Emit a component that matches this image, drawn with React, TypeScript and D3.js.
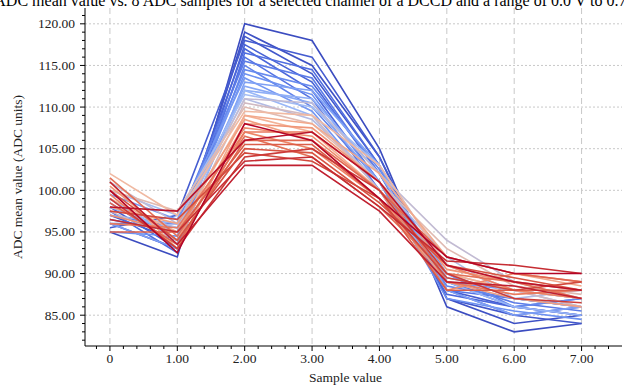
import React from "react";
import * as d3 from "d3";

const TITLE = "ADC mean value vs. 8 ADC samples for a selected channel of a DCCD and a range of 0.0 V to 0.7 V";
const X_LABEL = "Sample value";
const Y_LABEL = "ADC mean value (ADC units)";
const samples = [0, 1, 2, 3, 4, 5, 6, 7];
const xTickLabels = ["0", "1.00", "2.00", "3.00", "4.00", "5.00", "6.00", "7.00"];
const yTicks = [85, 90, 95, 100, 105, 110, 115, 120];

const series: number[][] = [
  [95, 92, 120, 118, 105, 86, 83, 84],
  [96, 93, 119, 115, 104, 87, 84, 85],
  [97, 94, 118.5, 114, 103, 87, 85, 84],
  [95.5, 97, 118, 116, 104, 88, 86, 85],
  [98, 93, 117.5, 113, 102, 88, 85, 86],
  [96.5, 95, 117, 112, 101, 87.5, 86, 85],
  [97.5, 92.5, 116.5, 114.5, 103, 89, 86, 87],
  [99, 94, 116, 111, 100, 88, 87, 86],
  [96, 96, 115.5, 113.5, 102, 89, 86.5, 85.5],
  [98.5, 93.5, 115, 110, 101, 88.5, 87, 86],
  [97, 95.5, 114.5, 112.5, 102.5, 90, 86, 87],
  [95, 94.5, 114, 111.5, 101, 87, 85.5, 84.5],
  [99.5, 96.5, 113.5, 109.5, 100, 89, 88, 87],
  [96, 93, 113, 112, 103, 88, 85, 86],
  [98, 95, 112.5, 110.5, 101, 90, 87, 86],
  [97, 96, 112, 111, 102, 89.5, 88, 87],
  [99, 94, 112, 109, 100, 89, 86, 85],
  [100, 97, 111.5, 110, 103, 91, 88, 86],
  [98, 95.5, 111, 108.5, 101, 92, 87, 88],
  [101, 96, 111, 110.5, 102, 94, 89, 87],
  [97.5, 94, 110.5, 109, 100, 90, 88, 86],
  [100, 97.5, 110, 108, 101, 93, 88.5, 87.5],
  [102, 97, 109.5, 109, 103, 91, 89, 88],
  [99, 95, 109, 107, 100, 90, 88, 87],
  [101, 93, 109, 108, 102, 92, 90, 88.5],
  [98, 96, 108.5, 106, 99, 89, 87, 86],
  [100.5, 94, 108, 107.5, 101, 90.5, 89, 88],
  [97, 95, 107.5, 106.5, 100, 88, 90, 89],
  [99.5, 93, 107, 105, 99, 91, 88, 87],
  [96, 95.5, 107, 107, 101, 89, 87.5, 88],
  [101.5, 94.5, 106.5, 104, 98, 90, 89, 87],
  [98.5, 93.5, 106, 106, 100, 92, 90, 89],
  [95, 95, 105.5, 105.5, 99, 88, 88, 88],
  [100, 94, 105, 104.5, 98.5, 91, 89.5, 88],
  [97.5, 96.5, 104.5, 103.5, 99, 89.5, 88, 89],
  [99, 93, 104, 105, 100, 90, 87, 86.5],
  [96.5, 95, 103.5, 104, 98, 91.5, 91, 90],
  [101, 93.5, 103, 103, 97.5, 89, 88.5, 87],
  [98, 97.5, 106, 107, 101, 91, 89, 88],
  [100, 92.5, 108, 106, 99, 92, 90, 90],
];

const coolwarm = ["#3b4cc0", "#4d6ade", "#6d92f2", "#9fbcf8", "#f4b99d", "#ee8566", "#d5503f", "#b40426"];

export default function App() {
  const W = 624, H = 387;
  const left = 85, right = 622, top = 8, bottom = 346;
  const x = d3.scaleLinear().domain([-0.37, 7.6]).range([left, right]);
  const y = d3.scaleLinear().domain([81.3, 121.9]).range([bottom, top]);
  const colorScale = d3
    .scaleLinear<string>()
    .domain(coolwarm.map((_, i) => (i / (coolwarm.length - 1)) * (series.length - 1)))
    .range(coolwarm)
    .interpolate(d3.interpolateRgb);
  const line = d3
    .line<number>()
    .x((_, i) => x(samples[i]))
    .y((v) => y(v));

  const yMinor = d3.range(82, 122, 1);
  const xMinor = d3.range(-0.2, 7.6, 0.2).filter((v) => Math.abs(v - Math.round(v)) > 0.01);
  const font = "'Liberation Serif', 'Times New Roman', serif";

  return (
    <svg
      width={W}
      height={H}
      style={{ position: "absolute", left: 0, top: 0, background: "#fff" }}
      fontFamily={font}
    >
      <text x={W / 2 + 6} y={6} textAnchor="middle" fontSize={16} fill="#000">
        {TITLE}
      </text>
      {samples.map((s) => (
        <line key={"gx" + s} x1={x(s)} x2={x(s)} y1={top} y2={bottom} stroke="#c8c8c8" strokeDasharray="6,4" />
      ))}
      {yTicks.map((t) => (
        <line key={"gy" + t} x1={left} x2={right} y1={y(t)} y2={y(t)} stroke="#c8c8c8" strokeDasharray="2,2" />
      ))}
      {series.map((s, i) => (
        <path key={"s" + i} d={line(s) || ""} fill="none" stroke={colorScale(i)} strokeWidth={1.6} />
      ))}
      <line x1={left} x2={left} y1={top} y2={bottom} stroke="#000" />
      <line x1={left} x2={right} y1={bottom} y2={bottom} stroke="#000" />
      {yMinor.map((v) => (
        <line key={"ym" + v} x1={left - (v % 5 === 0 ? 5 : 3)} x2={left} y1={y(v)} y2={y(v)} stroke="#000" />
      ))}
      {yTicks.map((t) => (
        <text key={"yl" + t} x={left - 10} y={y(t) + 4.5} textAnchor="end" fontSize={13.5} fill="#222">
          {t.toFixed(2)}
        </text>
      ))}
      {xMinor.map((v, i) => (
        <line key={"xm" + i} x1={x(v)} x2={x(v)} y1={bottom} y2={bottom + 3} stroke="#000" />
      ))}
      {samples.map((s) => (
        <line key={"xt" + s} x1={x(s)} x2={x(s)} y1={bottom} y2={bottom + 5} stroke="#000" />
      ))}
      {samples.map((s, i) => (
        <text key={"xl" + s} x={x(s)} y={bottom + 17} textAnchor="middle" fontSize={13.5} fill="#222">
          {xTickLabels[i]}
        </text>
      ))}
      <text x={(left + right) / 2 - 8} y={382} textAnchor="middle" fontSize={13.5} fill="#222">
        {X_LABEL}
      </text>
      <text
        transform={`translate(22, ${(top + bottom) / 2}) rotate(-90)`}
        textAnchor="middle"
        fontSize={13.5}
        fill="#222"
      >
        {Y_LABEL}
      </text>
    </svg>
  );
}
